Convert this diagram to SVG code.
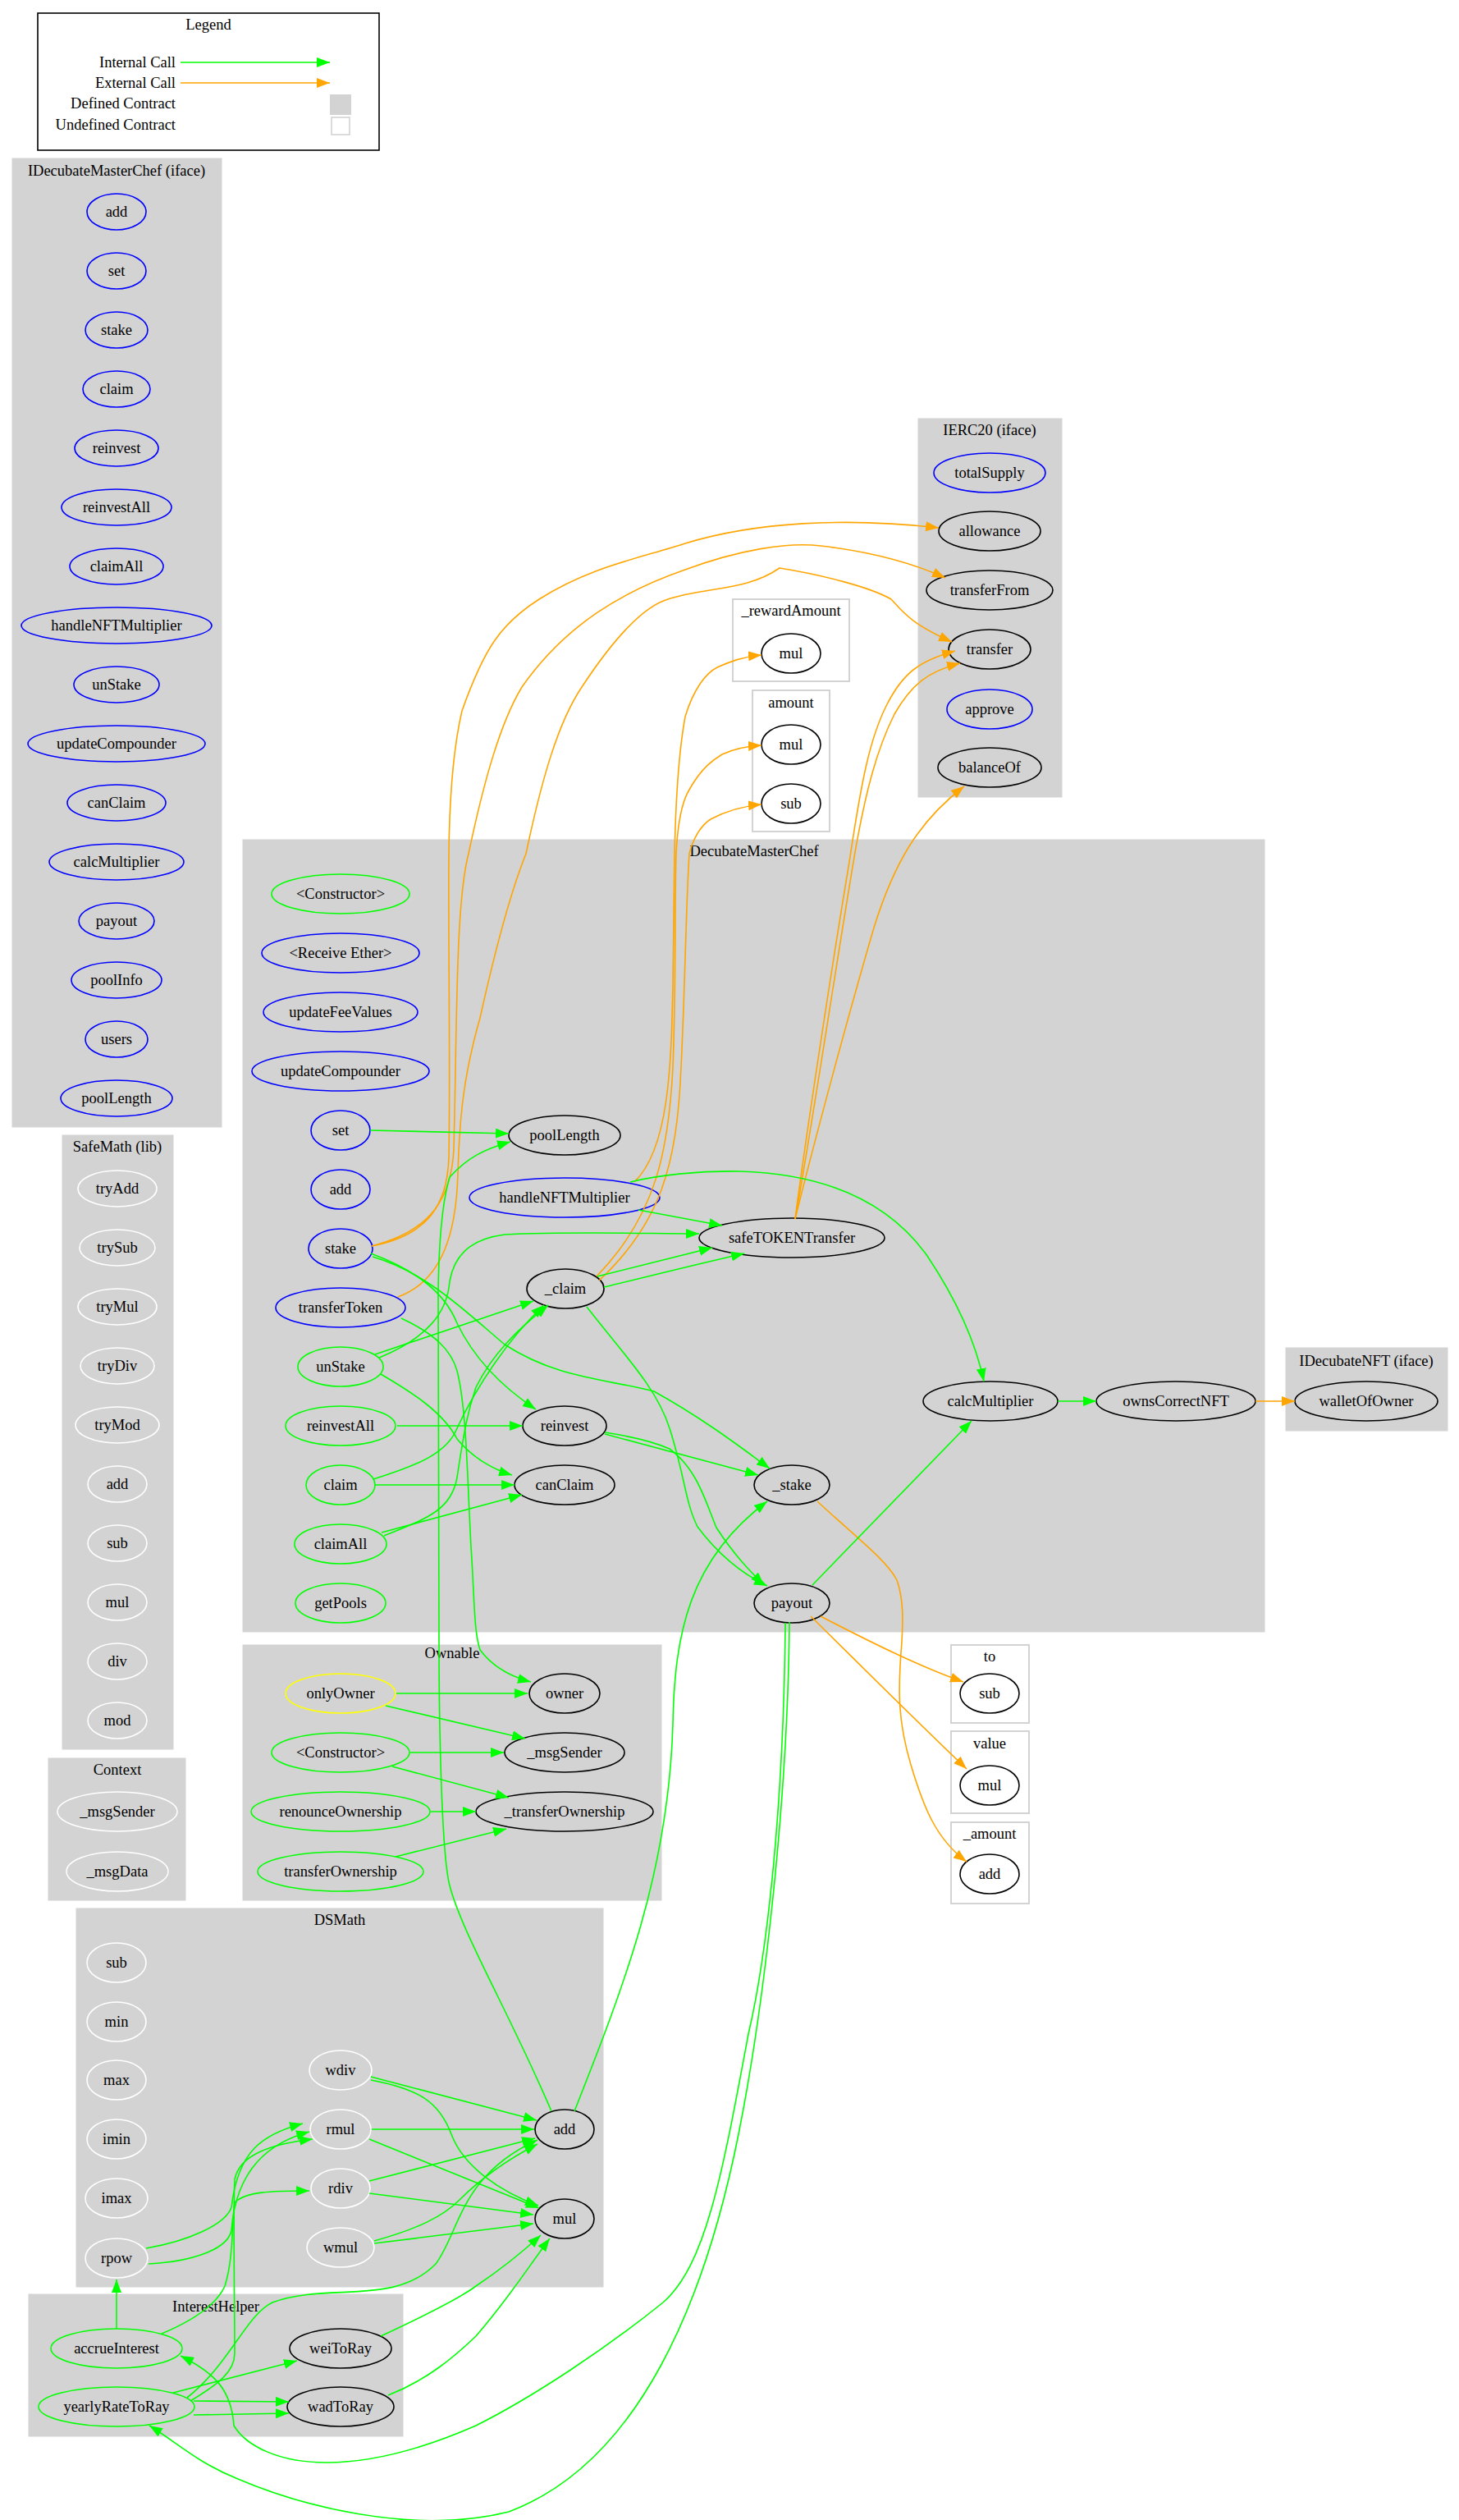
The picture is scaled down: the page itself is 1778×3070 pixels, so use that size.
<svg xmlns="http://www.w3.org/2000/svg" width="1778" height="3070" viewBox="0 0 1778 3070">
<defs>
<style>
text{font-family:"Liberation Serif","Times New Roman",serif;font-size:18.5px;fill:#000;text-anchor:middle}
.cl{fill:#d3d3d3;stroke:#d3d3d3}
.ucl{fill:#fff;stroke:#d3d3d3;stroke-width:2}
ellipse{fill:none;stroke-width:1.6}
.b{stroke:#0000ff}.g{stroke:#00ff00}.k{stroke:#000}.w{stroke:#fff}.y{stroke:#ffff00}
.eg{fill:none;stroke:#00ff00;stroke-width:1.6;marker-end:url(#ag)}
.eo{fill:none;stroke:#ffa500;stroke-width:1.6;marker-end:url(#ao)}
</style>
<marker id="ag" viewBox="0 0 16 12" refX="16" refY="6" markerWidth="16" markerHeight="12" markerUnits="userSpaceOnUse" orient="auto"><path d="M0,0L16,6L0,12z" fill="#00ff00"/></marker>
<marker id="ao" viewBox="0 0 16 12" refX="16" refY="6" markerWidth="16" markerHeight="12" markerUnits="userSpaceOnUse" orient="auto"><path d="M0,0L16,6L0,12z" fill="#ffa500"/></marker>
</defs>
<rect width="1778" height="3070" fill="#fff"/>
<g id="legend">
<rect x="46" y="16" width="416" height="167" fill="#fff" stroke="#000" stroke-width="1.6"/>
<text x="254" y="36">Legend</text>
<text x="214" y="82" style="text-anchor:end">Internal Call</text>
<text x="214" y="107" style="text-anchor:end">External Call</text>
<text x="214" y="132" style="text-anchor:end">Defined Contract</text>
<text x="214" y="158" style="text-anchor:end">Undefined Contract</text>
<path class="eg" d="M220,76H402"/>
<path class="eo" d="M220,101H402"/>
<rect x="402" y="115" width="26" height="25" fill="#d3d3d3"/>
<rect x="404" y="143" width="22" height="21" fill="#fff" stroke="#d3d3d3" stroke-width="1.6"/>
</g>
<g id="IDecubateMasterChef">
<rect class="cl" x="15" y="193" width="255" height="1180"/>
<text x="142" y="214">IDecubateMasterChef  (iface)</text>
<ellipse class="b" cx="142" cy="258" rx="36" ry="22"/><text x="142" y="264">add</text>
<ellipse class="b" cx="142" cy="330" rx="36" ry="22"/><text x="142" y="336">set</text>
<ellipse class="b" cx="142" cy="402" rx="38" ry="22"/><text x="142" y="408">stake</text>
<ellipse class="b" cx="142" cy="474" rx="41" ry="22"/><text x="142" y="480">claim</text>
<ellipse class="b" cx="142" cy="546" rx="51" ry="22"/><text x="142" y="552">reinvest</text>
<ellipse class="b" cx="142" cy="618" rx="67" ry="22"/><text x="142" y="624">reinvestAll</text>
<ellipse class="b" cx="142" cy="690" rx="57" ry="22"/><text x="142" y="696">claimAll</text>
<ellipse class="b" cx="142" cy="762" rx="116" ry="22"/><text x="142" y="768">handleNFTMultiplier</text>
<ellipse class="b" cx="142" cy="834" rx="52" ry="22"/><text x="142" y="840">unStake</text>
<ellipse class="b" cx="142" cy="906" rx="108" ry="22"/><text x="142" y="912">updateCompounder</text>
<ellipse class="b" cx="142" cy="978" rx="60" ry="22"/><text x="142" y="984">canClaim</text>
<ellipse class="b" cx="142" cy="1050" rx="82" ry="22"/><text x="142" y="1056">calcMultiplier</text>
<ellipse class="b" cx="142" cy="1122" rx="46" ry="22"/><text x="142" y="1128">payout</text>
<ellipse class="b" cx="142" cy="1194" rx="55" ry="22"/><text x="142" y="1200">poolInfo</text>
<ellipse class="b" cx="142" cy="1266" rx="38" ry="22"/><text x="142" y="1272">users</text>
<ellipse class="b" cx="142" cy="1338" rx="68" ry="22"/><text x="142" y="1344">poolLength</text>
</g>
<g id="SafeMath">
<rect class="cl" x="76" y="1383" width="135" height="748"/>
<text x="143" y="1403">SafeMath  (lib)</text>
<ellipse class="w" cx="143" cy="1448" rx="48" ry="22"/><text x="143" y="1454">tryAdd</text>
<ellipse class="w" cx="143" cy="1520" rx="46" ry="22"/><text x="143" y="1526">trySub</text>
<ellipse class="w" cx="143" cy="1592" rx="48" ry="22"/><text x="143" y="1598">tryMul</text>
<ellipse class="w" cx="143" cy="1664" rx="45" ry="22"/><text x="143" y="1670">tryDiv</text>
<ellipse class="w" cx="143" cy="1736" rx="51" ry="22"/><text x="143" y="1742">tryMod</text>
<ellipse class="w" cx="143" cy="1808" rx="36" ry="22"/><text x="143" y="1814">add</text>
<ellipse class="w" cx="143" cy="1880" rx="36" ry="22"/><text x="143" y="1886">sub</text>
<ellipse class="w" cx="143" cy="1952" rx="36" ry="22"/><text x="143" y="1958">mul</text>
<ellipse class="w" cx="143" cy="2024" rx="36" ry="22"/><text x="143" y="2030">div</text>
<ellipse class="w" cx="143" cy="2096" rx="36" ry="22"/><text x="143" y="2102">mod</text>
</g>
<g id="Context">
<rect class="cl" x="59" y="2142" width="167" height="173"/>
<text x="143" y="2162">Context</text>
<ellipse class="w" cx="143" cy="2207" rx="73" ry="24"/><text x="143" y="2213">_msgSender</text>
<ellipse class="w" cx="143" cy="2280" rx="62" ry="24"/><text x="143" y="2286">_msgData</text>
</g>
<g id="DecubateMasterChef">
<rect class="cl" x="296" y="1023" width="1245" height="965"/>
<text x="919" y="1043">DecubateMasterChef</text>
<ellipse class="g" cx="415" cy="1089" rx="84" ry="24"/><text x="415" y="1095">&lt;Constructor&gt;</text>
<ellipse class="b" cx="415" cy="1161" rx="96" ry="24"/><text x="415" y="1167">&lt;Receive Ether&gt;</text>
<ellipse class="b" cx="415" cy="1233" rx="94" ry="24"/><text x="415" y="1239">updateFeeValues</text>
<ellipse class="b" cx="415" cy="1305" rx="108" ry="24"/><text x="415" y="1311">updateCompounder</text>
<ellipse class="b" cx="415" cy="1377" rx="36" ry="24"/><text x="415" y="1383">set</text>
<ellipse class="b" cx="415" cy="1449" rx="36" ry="24"/><text x="415" y="1455">add</text>
<ellipse class="b" cx="415" cy="1521" rx="39" ry="24"/><text x="415" y="1527">stake</text>
<ellipse class="b" cx="415" cy="1593" rx="79" ry="24"/><text x="415" y="1599">transferToken</text>
<ellipse class="g" cx="415" cy="1665" rx="52" ry="24"/><text x="415" y="1671">unStake</text>
<ellipse class="g" cx="415" cy="1737" rx="67" ry="24"/><text x="415" y="1743">reinvestAll</text>
<ellipse class="g" cx="415" cy="1809" rx="42" ry="24"/><text x="415" y="1815">claim</text>
<ellipse class="g" cx="415" cy="1881" rx="56" ry="24"/><text x="415" y="1887">claimAll</text>
<ellipse class="g" cx="415" cy="1953" rx="55" ry="24"/><text x="415" y="1959">getPools</text>
<ellipse class="k" cx="688" cy="1383" rx="68" ry="24"/><text x="688" y="1389">poolLength</text>
<ellipse class="b" cx="688" cy="1459" rx="116" ry="24"/><text x="688" y="1465">handleNFTMultiplier</text>
<ellipse class="k" cx="965" cy="1508" rx="113" ry="24"/><text x="965" y="1514">safeTOKENTransfer</text>
<ellipse class="k" cx="689" cy="1570" rx="47" ry="24"/><text x="689" y="1576">_claim</text>
<ellipse class="k" cx="688" cy="1737" rx="51" ry="24"/><text x="688" y="1743">reinvest</text>
<ellipse class="k" cx="688" cy="1809" rx="61" ry="24"/><text x="688" y="1815">canClaim</text>
<ellipse class="k" cx="965" cy="1809" rx="46" ry="24"/><text x="965" y="1815">_stake</text>
<ellipse class="k" cx="965" cy="1953" rx="46" ry="24"/><text x="965" y="1959">payout</text>
<ellipse class="k" cx="1207" cy="1707" rx="82" ry="24"/><text x="1207" y="1713">calcMultiplier</text>
<ellipse class="k" cx="1433" cy="1707" rx="97" ry="24"/><text x="1433" y="1713">ownsCorrectNFT</text>
</g>
<g id="IDecubateNFT">
<rect class="cl" x="1567" y="1642" width="197" height="101"/>
<text x="1665" y="1664">IDecubateNFT  (iface)</text>
<ellipse class="k" cx="1665" cy="1707" rx="87" ry="24"/><text x="1665" y="1713">walletOfOwner</text>
</g>
<g id="IERC20">
<rect class="cl" x="1119" y="510" width="175" height="461"/>
<text x="1206" y="530">IERC20  (iface)</text>
<ellipse class="b" cx="1206" cy="576" rx="68" ry="24"/><text x="1206" y="582">totalSupply</text>
<ellipse class="k" cx="1206" cy="647" rx="62" ry="24"/><text x="1206" y="653">allowance</text>
<ellipse class="k" cx="1206" cy="719" rx="77" ry="24"/><text x="1206" y="725">transferFrom</text>
<ellipse class="k" cx="1206" cy="791" rx="50" ry="24"/><text x="1206" y="797">transfer</text>
<ellipse class="b" cx="1206" cy="864" rx="52" ry="24"/><text x="1206" y="870">approve</text>
<ellipse class="k" cx="1206" cy="935" rx="63" ry="24"/><text x="1206" y="941">balanceOf</text>
</g>
<g id="_rewardAmount">
<rect class="ucl" x="893" y="730" width="142" height="100"/>
<text x="964" y="750">_rewardAmount</text>
<ellipse class="k" cx="964" cy="796" rx="36" ry="24"/><text x="964" y="802">mul</text>
</g>
<g id="amount">
<rect class="ucl" x="917" y="841" width="94" height="172"/>
<text x="964" y="862">amount</text>
<ellipse class="k" cx="964" cy="907" rx="36" ry="24"/><text x="964" y="913">mul</text>
<ellipse class="k" cx="964" cy="979" rx="36" ry="24"/><text x="964" y="985">sub</text>
</g>
<g id="Ownable">
<rect class="cl" x="296" y="2004" width="510" height="311"/>
<text x="551" y="2020">Ownable</text>
<ellipse class="y" cx="415" cy="2063" rx="67" ry="24"/><text x="415" y="2069">onlyOwner</text>
<ellipse class="k" cx="688" cy="2063" rx="43" ry="24"/><text x="688" y="2069">owner</text>
<ellipse class="g" cx="415" cy="2135" rx="84" ry="24"/><text x="415" y="2141">&lt;Constructor&gt;</text>
<ellipse class="k" cx="688" cy="2135" rx="73" ry="24"/><text x="688" y="2141">_msgSender</text>
<ellipse class="g" cx="415" cy="2207" rx="109" ry="24"/><text x="415" y="2213">renounceOwnership</text>
<ellipse class="k" cx="688" cy="2207" rx="108" ry="24"/><text x="688" y="2213">_transferOwnership</text>
<ellipse class="g" cx="415" cy="2280" rx="101" ry="24"/><text x="415" y="2286">transferOwnership</text>
</g>
<g id="to">
<rect class="ucl" x="1159" y="2004" width="95" height="95"/>
<text x="1206" y="2024">to</text>
<ellipse class="k" cx="1206" cy="2063" rx="36" ry="24"/><text x="1206" y="2069">sub</text>
</g>
<g id="value">
<rect class="ucl" x="1159" y="2109" width="95" height="100"/>
<text x="1206" y="2130">value</text>
<ellipse class="k" cx="1206" cy="2175" rx="36" ry="24"/><text x="1206" y="2181">mul</text>
</g>
<g id="_amount">
<rect class="ucl" x="1159" y="2220" width="95" height="99"/>
<text x="1206" y="2240">_amount</text>
<ellipse class="k" cx="1206" cy="2283" rx="36" ry="24"/><text x="1206" y="2289">add</text>
</g>
<g id="DSMath">
<rect class="cl" x="93" y="2325" width="642" height="461"/>
<text x="414" y="2345">DSMath</text>
<ellipse class="w" cx="142" cy="2391" rx="36" ry="24"/><text x="142" y="2397">sub</text>
<ellipse class="w" cx="142" cy="2463" rx="36" ry="24"/><text x="142" y="2469">min</text>
<ellipse class="w" cx="142" cy="2534" rx="36" ry="24"/><text x="142" y="2540">max</text>
<ellipse class="w" cx="142" cy="2606" rx="36" ry="24"/><text x="142" y="2612">imin</text>
<ellipse class="w" cx="142" cy="2678" rx="38" ry="24"/><text x="142" y="2684">imax</text>
<ellipse class="w" cx="142" cy="2751" rx="38" ry="24"/><text x="142" y="2757">rpow</text>
<ellipse class="w" cx="415" cy="2522" rx="38" ry="24"/><text x="415" y="2528">wdiv</text>
<ellipse class="w" cx="415" cy="2594" rx="37" ry="24"/><text x="415" y="2600">rmul</text>
<ellipse class="w" cx="415" cy="2666" rx="36" ry="24"/><text x="415" y="2672">rdiv</text>
<ellipse class="w" cx="415" cy="2738" rx="41" ry="24"/><text x="415" y="2744">wmul</text>
<ellipse class="k" cx="688" cy="2594" rx="36" ry="24"/><text x="688" y="2600">add</text>
<ellipse class="k" cx="688" cy="2703" rx="36" ry="24"/><text x="688" y="2709">mul</text>
</g>
<g id="InterestHelper">
<rect class="cl" x="35" y="2795" width="456" height="173"/>
<text x="263" y="2816">InterestHelper</text>
<ellipse class="g" cx="142" cy="2861" rx="80" ry="24"/><text x="142" y="2867">accrueInterest</text>
<ellipse class="g" cx="142" cy="2932" rx="95" ry="24"/><text x="142" y="2938">yearlyRateToRay</text>
<ellipse class="k" cx="415" cy="2861" rx="62" ry="24"/><text x="415" y="2867">weiToRay</text>
<ellipse class="k" cx="415" cy="2932" rx="65" ry="24"/><text x="415" y="2938">wadToRay</text>
</g>
<g id="connectors">
<path class="eo" d="M453,1518C520,1505 545,1470 547,1410C549,1300 546,1120 547,1040C548,950 555,900 563,866C590,790 610,760 657,730C720,690 780,680 835,662C920,636 1030,630 1144,643"/>
<path class="eo" d="M453,1518C525,1500 550,1460 553,1400C557,1250 555,1100 571,1040C590,950 610,880 636,837C690,760 760,720 835,694C900,670 960,660 1000,665C1060,672 1110,685 1152,704"/>
<path class="eo" d="M485,1580C540,1560 556,1500 558,1430C560,1360 565,1310 585,1240C605,1150 625,1080 641,1040C660,950 680,880 709,837C740,790 780,740 814,730C860,715 910,720 950,692C1000,700 1060,715 1086,730C1100,745 1110,760 1160,782"/>
<path class="eo" d="M773,1440C815,1400 818,1300 820,1200C821,1120 822,1080 822,1040C824,950 830,900 835,873C845,840 860,820 874,813C890,806 905,800 928,798"/>
<path class="eo" d="M727,1555C800,1480 815,1400 820,1300C824,1200 822,1100 824,1040C826,1000 832,975 840,962C855,935 870,925 880,919C895,912 910,909 928,908"/>
<path class="eo" d="M730,1560C805,1490 825,1420 830,1300C835,1200 836,1100 840,1040C845,1020 855,1005 866,998C885,988 905,982 928,980"/>
<path class="eo" d="M969,1485C980,1400 1010,1200 1035,1050C1050,950 1060,900 1080,860C1100,820 1120,805 1164,793"/>
<path class="eo" d="M969,1485C985,1400 1015,1200 1040,1050C1055,960 1070,910 1090,870C1110,835 1130,818 1170,808"/>
<path class="eo" d="M969,1485C990,1400 1030,1250 1065,1130C1090,1050 1120,1000 1175,958"/>
<path class="eo" d="M1530,1707H1578"/>
<path class="eo" d="M996,1829C1040,1870 1080,1900 1093,1925C1102,1950 1100,1980 1099,2000C1094,2060 1094,2096 1110,2150C1125,2200 1140,2240 1178,2268"/>
<path class="eo" d="M1000,1969C1060,2000 1120,2030 1174,2049"/>
<path class="eo" d="M988,1969C1050,2030 1120,2100 1178,2155"/>
<path class="eg" d="M451,1377L620,1381"/>
<path class="eg" d="M672,2572C620,2450 560,2350 547,2293C538,2250 535,2100 535,2000C534,1800 534,1650 534,1574C535,1500 540,1460 548,1434C570,1410 590,1400 622,1391"/>
<path class="eg" d="M778,1474L880,1493"/>
<path class="eg" d="M768,1440C800,1432 850,1426 902,1427C1000,1430 1080,1460 1130,1530C1170,1590 1190,1640 1199,1683"/>
<path class="eg" d="M462,1654C520,1630 545,1600 548,1561C555,1520 585,1508 615,1504C700,1500 790,1503 852,1503"/>
<path class="eg" d="M457,1650L650,1585"/>
<path class="eg" d="M464,1674C500,1695 540,1720 557,1753C575,1775 600,1790 624,1797"/>
<path class="eg" d="M728,1555L868,1520"/>
<path class="eg" d="M736,1568C790,1555 850,1540 907,1527"/>
<path class="eg" d="M715,1592C760,1650 800,1690 816,1740C835,1800 835,1830 850,1860C880,1900 910,1920 935,1932"/>
<path class="eg" d="M452,1527C500,1545 540,1570 557,1612C580,1660 620,1695 653,1717"/>
<path class="eg" d="M454,1531C520,1550 570,1600 615,1638C680,1680 740,1680 797,1695C860,1730 905,1765 938,1789"/>
<path class="eg" d="M484,1737H637"/>
<path class="eg" d="M737,1747L924,1797"/>
<path class="eg" d="M737,1745C770,1750 800,1758 816,1765C850,1790 860,1830 873,1861C895,1895 915,1915 931,1931"/>
<path class="eg" d="M455,1802C510,1785 545,1770 557,1740C580,1690 620,1630 663,1590"/>
<path class="eg" d="M457,1809H627"/>
<path class="eg" d="M468,1871C520,1850 550,1840 557,1800C566,1740 570,1720 580,1690C600,1650 630,1620 668,1590"/>
<path class="eg" d="M465,1867L636,1821"/>
<path class="eg" d="M489,1606C530,1625 550,1645 557,1670C570,1720 570,1830 575,1900C578,1950 578,1990 585,2010C600,2030 620,2042 647,2049"/>
<path class="eg" d="M990,1931L1184,1731"/>
<path class="eg" d="M1289,1707H1336"/>
<path class="eg" d="M700,2572C760,2420 815,2280 820,2100C822,1990 840,1900 935,1829"/>
<path class="eg" d="M962,1976C960,2200 930,2450 900,2600C860,2800 780,3000 620,3060C500,3090 360,3050 290,3020C240,3000 215,2975 182,2955"/>
<path class="eg" d="M957,1977C955,2200 935,2380 912,2478C880,2650 860,2760 808,2805C740,2860 650,2920 580,2955C500,2990 440,3000 398,3000C340,3000 300,2980 285,2955C282,2910 260,2890 220,2870"/>
<path class="eg" d="M483,2063H643"/>
<path class="eg" d="M470,2078L640,2118"/>
<path class="eg" d="M500,2135H614"/>
<path class="eg" d="M478,2152L620,2190"/>
<path class="eg" d="M525,2207H580"/>
<path class="eg" d="M482,2262L617,2228"/>
<path class="eg" d="M452,2530L654,2583"/>
<path class="eg" d="M452,2534C510,2545 535,2560 550,2600C565,2640 610,2670 656,2687"/>
<path class="eg" d="M453,2594H651"/>
<path class="eg" d="M450,2606L657,2690"/>
<path class="eg" d="M450,2657L652,2605"/>
<path class="eg" d="M450,2672L650,2698"/>
<path class="eg" d="M456,2730C510,2715 540,2700 560,2680C590,2650 620,2630 655,2612"/>
<path class="eg" d="M456,2733L650,2709"/>
<path class="eg" d="M178,2739C230,2730 275,2710 282,2689C290,2620 320,2600 369,2587"/>
<path class="eg" d="M181,2758C235,2755 278,2740 282,2717C288,2640 330,2610 377,2597"/>
<path class="eg" d="M232,2925C265,2905 286,2890 286,2867C286,2800 284,2700 286,2655C292,2625 330,2612 381,2606"/>
<path class="eg" d="M142,2837V2777"/>
<path class="eg" d="M197,2843C240,2825 265,2805 274,2785C285,2750 282,2710 286,2683C300,2670 330,2669 377,2669"/>
<path class="eg" d="M211,2915L362,2876"/>
<path class="eg" d="M236,2925L352,2926"/>
<path class="eg" d="M236,2942L352,2940"/>
<path class="eg" d="M228,2921C280,2880 300,2820 332,2805C400,2780 480,2810 531,2758C560,2720 560,2650 655,2607"/>
<path class="eg" d="M464,2846C520,2820 560,2800 580,2785C610,2765 635,2745 659,2723"/>
<path class="eg" d="M473,2918C520,2900 555,2870 580,2846C620,2800 645,2760 670,2727"/>
</g>
</svg>
